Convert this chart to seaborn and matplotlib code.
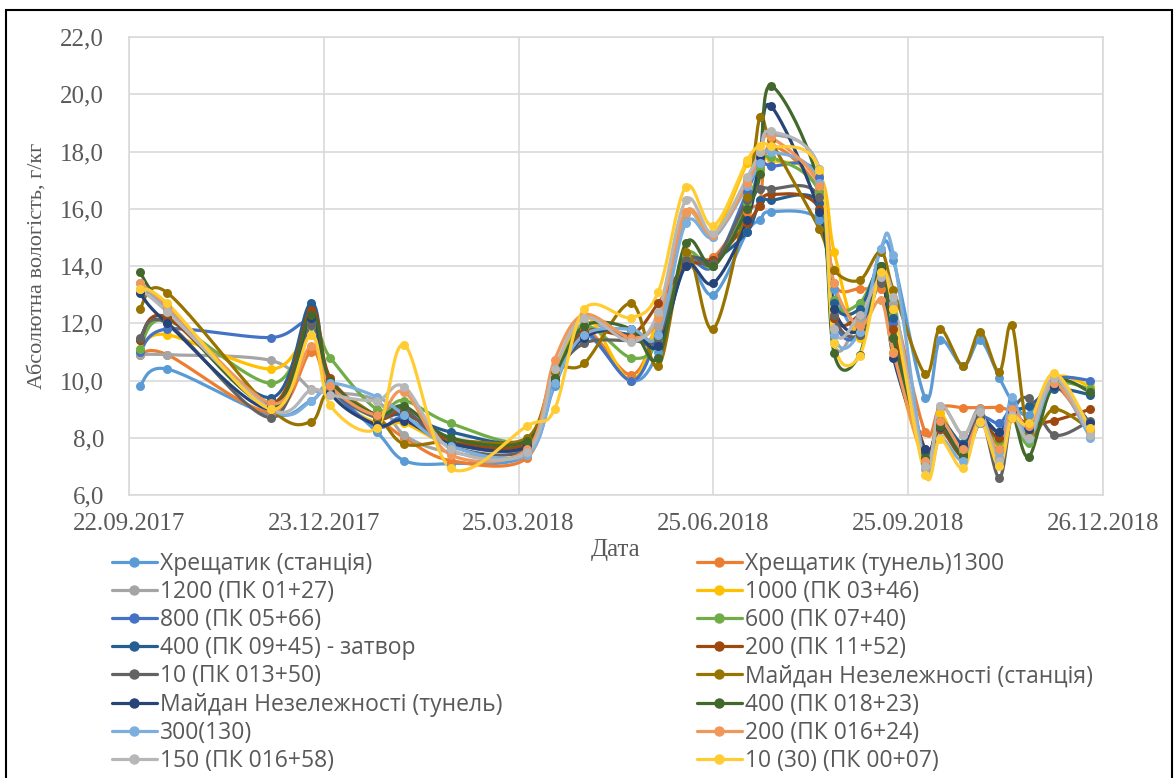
import numpy as np
import pandas as pd
import matplotlib
matplotlib.use("Agg")
import matplotlib.pyplot as plt
import matplotlib.dates as mdates
from matplotlib.lines import Line2D
from matplotlib.patches import Rectangle
from matplotlib.ticker import FuncFormatter
import seaborn as sns

# measurement dates
dates = ['2017-09-27', '2017-10-10', '2017-11-28', '2017-12-17', '2017-12-26',
         '2018-01-17', '2018-01-30', '2018-02-21', '2018-03-29', '2018-04-11',
         '2018-04-25', '2018-05-17', '2018-05-30', '2018-06-12', '2018-06-25',
         '2018-07-11', '2018-07-17', '2018-07-22', '2018-08-14', '2018-08-21',
         '2018-09-02', '2018-09-12', '2018-09-18', '2018-10-03', '2018-10-10',
         '2018-10-21', '2018-10-29', '2018-11-07', '2018-11-13', '2018-11-21',
         '2018-12-03', '2018-12-20']

names = ['Хрещатик (станція)', 'Хрещатик (тунель)1300', '1200 (ПК 01+27)', '1000 (ПК 03+46)',
         '800 (ПК 05+66)', '600 (ПК 07+40)', '400 (ПК 09+45) - затвор', '200 (ПК 11+52)',
         '10 (ПК 013+50)', 'Майдан Незележності (станція)', 'Майдан Незележності (тунель)',
         '400 (ПК 018+23)', '300(130)', '200 (ПК 016+24)', '150 (ПК 016+58)', '10 (30) (ПК 00+07)']

colors = ['#5B9BD5', '#ED7D31', '#A5A5A5', '#FFC000', '#4472C4', '#70AD47', '#255E91', '#9E480E',
          '#636363', '#997300', '#264478', '#43682B', '#7CAFDD', '#F1975A', '#B7B7B7', '#FFCD33']

khreshchatyk_st = [9.8, 10.4, 8.8, 9.3, 9.6, 8.2, 7.2, 7.1, 7.4, 9.8, 11.6, 10.0, 11.0, 14.0, 13.0, 15.2,
                   15.6, 15.9, 15.6, 13.2, 11.8, 14.6, 14.2, 9.4, 11.4, 10.5, 11.4, 10.1, 9.3, 8.8, 10.0, 8.1]
khreshchatyk_tun = [10.9, 10.9, 8.9, 11.0, 9.7, 8.7, 8.0, 7.2, 7.3, 10.3, 11.8, 10.2, 11.9, 14.2, 14.3, 15.9,
                    16.3, 18.2, 16.6, 13.4, 13.2, 13.2, 12.6, 8.2, 9.05, 9.05, 9.05, 9.05, 8.9, 8.4, 9.8, 8.2]
s1200 = [10.9, 10.9, 10.7, 9.7, 9.6, 9.3, 8.1, 7.5, 7.5, 10.4, 12.0, 11.4, 11.9, 15.8, 15.0, 17.0,
         17.9, 18.6, 17.4, 11.3, 12.2, 13.6, 12.7, 6.9, 9.1, 8.1, 9.0, 7.3, 8.7, 8.2, 9.9, 8.1]
s1000 = [11.1, 11.6, 10.4, 11.6, 9.6, 8.5, 8.5, 7.8, 7.8, 10.0, 12.3, 10.0, 12.3, 15.9, 15.1, 17.6,
         18.0, 17.7, 17.2, 14.5, 11.5, 13.8, 11.0, 7.2, 8.85, 7.3, 8.6, 7.7, 8.8, 8.5, 10.1, 9.8]
s800 = [11.0, 11.8, 11.5, 12.0, 9.8, 8.4, 8.7, 7.8, 7.7, 10.1, 11.7, 10.0, 11.6, 14.1, 14.0, 16.6,
        17.6, 17.5, 17.1, 12.2, 11.6, 14.0, 12.0, 7.5, 8.3, 7.7, 8.7, 8.5, 9.0, 8.5, 10.0, 10.0]
s600 = [11.1, 12.1, 9.9, 11.9, 10.8, 9.0, 9.3, 8.5, 7.9, 10.1, 11.9, 10.8, 11.4, 14.4, 14.0, 16.2,
        17.4, 17.8, 16.6, 12.8, 12.7, 13.9, 12.3, 7.4, 8.5, 7.5, 8.6, 7.9, 8.8, 7.8, 9.8, 9.7]
s400_gate = [11.4, 12.2, 9.4, 12.7, 9.9, 8.8, 8.8, 8.2, 7.9, 10.0, 11.6, 11.6, 11.3, 14.1, 14.2, 15.2,
             16.3, 16.3, 16.2, 12.7, 12.5, 14.0, 12.2, 7.5, 8.6, 7.8, 8.7, 8.2, 8.9, 9.1, 9.7, 9.5]
s200 = [11.4, 12.2, 9.2, 12.45, 10.1, 8.7, 8.9, 7.9, 7.8, 10.0, 11.7, 11.6, 12.7, 14.0, 14.2, 15.5,
        16.1, 16.5, 16.0, 12.2, 12.3, 13.5, 11.8, 7.6, 8.3, 7.35, 8.5, 8.0, 8.7, 8.5, 8.6, 9.0]
s10 = [11.5, 12.0, 8.7, 11.94, 9.8, 8.7, 9.0, 7.7, 7.6, 10.1, 11.3, 11.4, 11.5, 14.2, 14.1, 16.3,
       16.7, 16.7, 16.4, 12.3, 11.6, 13.4, 11.5, 7.1, 8.5, 7.6, 8.8, 6.6, 8.8, 9.38, 8.1, 8.6]
maidan_st = [12.5, 13.07, 9.0, 8.56, 9.6, 8.74, 7.78, 7.9, 8.0, 10.3, 10.6, 12.7, 10.5, 14.5, 11.8, 16.4,
             19.2, 18.4, 15.3, 13.86, 13.5, 14.5, 13.16, 10.23, 11.8, 10.5, 11.7, 10.3, 11.94, 8.2, 9.0, 8.3]
maidan_tun = [13.05, 12.0, 9.0, 12.2, 9.6, 8.45, 8.6, 7.8, 7.7, 10.0, 11.5, 11.8, 11.2, 14.0, 13.4, 15.6,
              17.8, 19.6, 15.9, 12.5, 11.76, 13.9, 10.8, 7.6, 8.39, 7.75, 8.6, 8.2, 8.8, 8.3, 9.8, 8.5]
s400_018 = [13.8, 12.5, 9.1, 12.3, 10.0, 8.8, 9.1, 8.0, 7.9, 10.1, 11.9, 11.8, 10.8, 14.8, 14.0, 16.0,
            17.2, 20.3, 16.8, 10.95, 10.9, 14.0, 11.5, 7.3, 8.4, 7.4, 8.6, 7.6, 8.8, 7.34, 9.9, 9.6]
s300 = [13.4, 12.5, 9.0, 9.27, 9.9, 9.43, 8.8, 7.7, 7.4, 9.9, 11.6, 11.8, 11.6, 15.5, 15.0, 16.8,
        17.6, 18.0, 16.9, 11.6, 11.7, 14.6, 14.4, 7.0, 8.0, 7.2, 8.5, 7.5, 9.43, 7.96, 9.9, 8.0]
s200_016 = [13.4, 12.6, 9.2, 11.2, 9.8, 8.8, 9.6, 7.4, 7.6, 10.72, 12.3, 11.5, 12.2, 15.9, 15.1, 16.9,
            18.0, 18.5, 16.8, 13.4, 11.9, 12.8, 10.97, 7.2, 8.6, 7.6, 8.6, 7.6, 9.0, 8.4, 9.9, 8.2]
s150 = [13.2, 12.4, 9.0, 9.67, 9.5, 9.3, 9.78, 7.6, 7.5, 10.4, 12.2, 11.36, 12.4, 16.3, 15.14, 17.1,
        18.0, 18.7, 17.4, 11.8, 12.3, 13.6, 12.9, 7.0, 9.1, 8.1, 8.9, 7.2, 8.8, 8.0, 10.1, 8.1]
s10_30 = [13.2, 12.7, 9.0, 11.6, 9.14, 8.33, 11.24, 6.93, 8.41, 9.0, 12.5, 12.2, 13.1, 16.77, 15.4, 17.7,
          18.2, 18.2, 17.35, 11.3, 10.86, 13.8, 12.5, 6.7, 7.94, 6.93, 8.56, 7.0, 8.7, 8.5, 10.25, 8.33]

series = [khreshchatyk_st, khreshchatyk_tun, s1200, s1000, s800, s600, s400_gate, s200,
          s10, maidan_st, maidan_tun, s400_018, s300, s200_016, s150, s10_30]

xticks = ['2017-09-22', '2017-12-23', '2018-03-25', '2018-06-25', '2018-09-25', '2018-12-26']


def smooth(x, y, n=24):
    # Excel-like smoothed line (Catmull-Rom as cubic Bezier)
    x = np.asarray(x, float)
    y = np.asarray(y, float)
    xs, ys = [], []
    t = np.linspace(0, 1, n)[:, None]
    P = np.column_stack([x, y])
    for i in range(len(P) - 1):
        p0 = P[i - 1] if i > 0 else P[i]
        p1, p2 = P[i], P[i + 1]
        p3 = P[i + 2] if i + 2 < len(P) else P[i + 1]
        c1 = p1 + (p2 - p0) / 6
        c2 = p2 - (p3 - p1) / 6
        b = ((1 - t) ** 3) * p1 + 3 * ((1 - t) ** 2) * t * c1 + 3 * (1 - t) * t ** 2 * c2 + t ** 3 * p2
        xs.append(b[:, 0])
        ys.append(b[:, 1])
    return np.concatenate(xs), np.concatenate(ys)


xnum = mdates.date2num(pd.to_datetime(dates))

sns.set_style("white")
plt.rcParams['font.family'] = ['Liberation Serif', 'DejaVu Serif']

fig = plt.figure(figsize=(11.76, 7.78), dpi=100)
ax = fig.add_axes([129 / 1176, 1 - 495 / 778, (1103 - 129) / 1176, (495 - 37) / 778])

for name, vals, col in zip(names, series, colors):
    sx, sy = smooth(xnum, vals)
    curve = pd.DataFrame({'x': sx, 'y': sy})
    pts = pd.DataFrame({'x': xnum, 'y': vals})
    sns.lineplot(data=curve, x='x', y='y', ax=ax, color=col, lw=2.3, sort=False,
                 estimator=None, legend=False)
    sns.scatterplot(data=pts, x='x', y='y', ax=ax, color=col, s=42, edgecolor=col,
                    linewidth=0, legend=False, zorder=3)

grid = '#D9D9D9'
txt = '#595959'
tick_nums = mdates.date2num(pd.to_datetime(xticks))
ax.set_xlim(tick_nums[0], tick_nums[-1])
ax.set_ylim(6, 22)
ax.set_xticks(tick_nums)
ax.set_xticklabels([pd.Timestamp(d).strftime('%d.%m.%Y') for d in xticks])
ax.set_yticks(np.arange(6, 22.1, 2))
ax.yaxis.set_major_formatter(FuncFormatter(lambda v, p: f'{v:.1f}'.replace('.', ',')))
ax.grid(True, color=grid, lw=1.2)
ax.set_axisbelow(True)
for sp in ax.spines.values():
    sp.set_color(grid)
    sp.set_linewidth(1.2)
ax.tick_params(axis='both', length=0, labelsize=18, labelcolor=txt)
ax.tick_params(axis='y', pad=18)
ax.tick_params(axis='x', pad=13)
ax.set_xlabel('Дата', fontsize=18, color=txt, labelpad=3)
ax.set_ylabel('Абсолютна вологість, г/кг', fontsize=16, color=txt, labelpad=10)

# legend: two columns, row-major order as in the original
leg_font = {'family': ['Open Sans', 'DejaVu Sans'], 'size': 16.5}
handles = [Line2D([], [], color=c, lw=2.3, marker='o', markersize=6.5) for c in colors]
for k, x0 in enumerate([112, 697]):
    idx = list(range(k, 16, 2))
    leg = fig.legend([handles[i] for i in idx], [names[i] for i in idx],
                     loc='upper left', bbox_to_anchor=(x0 / 1176, 1 - 552 / 778),
                     frameon=False, prop=leg_font, handlelength=1.95, handletextpad=0.13,
                     labelspacing=0.18, borderaxespad=0, borderpad=0, numpoints=1)
    for t in leg.get_texts():
        t.set_color(txt)

fig.patches.append(Rectangle((6 / 1176, -0.05), 1166 / 1176, 1.05 - 10 / 778,
                             transform=fig.transFigure, fill=False, edgecolor='black', lw=1.5))

fig.savefig('out.png', dpi=100)
